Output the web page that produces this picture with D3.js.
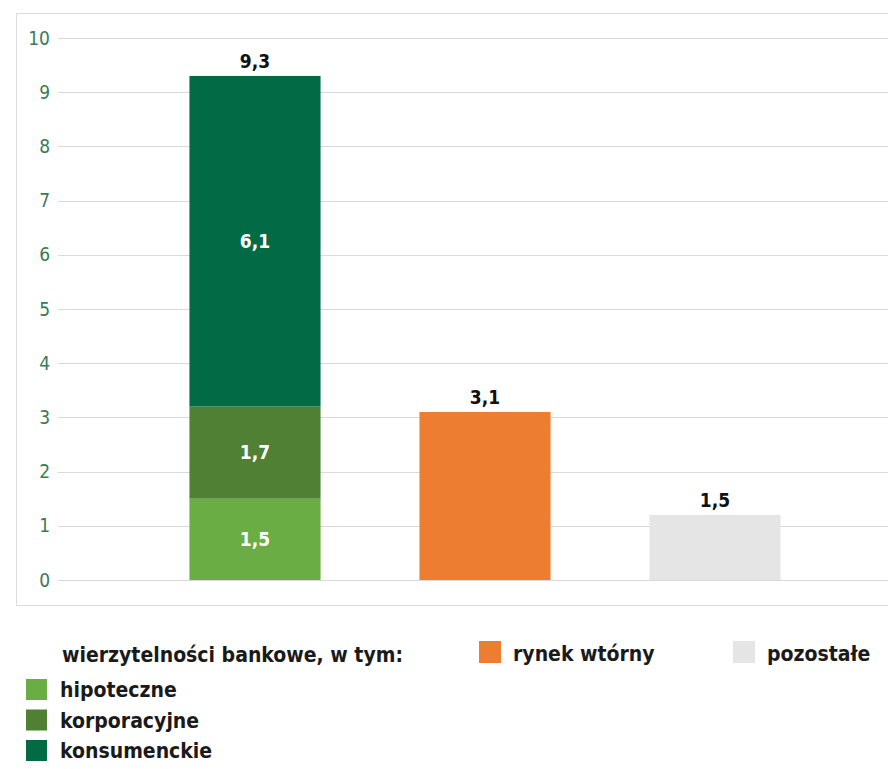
<!DOCTYPE html>
<html lang="pl">
<head>
<meta charset="UTF-8">
<script src="https://d3js.org/d3.v7.min.js"></script>
<style>
  * { margin: 0; padding: 0; }
  body { background: #fff; width: 888px; height: 769px; overflow: hidden; }
  svg { display: block; font-family: 'Liberation Sans Narrow', 'DejaVu Sans Condensed', 'Roboto', sans-serif; }
</style>
</head>
<body>
<svg id="chart" width="888" height="769"></svg>
<script>
// data
var categories = ['wierzytelności bankowe', 'rynek wtórny', 'pozostałe'];
var stackKeys = ['hipoteczne', 'korporacyjne', 'konsumenckie'];
var stackValues = [1.5, 1.7, 6.1];
var stackLabels = ['1,5', '1,7', '6,1'];
var singleValues = [3.1, 1.2];
var topLabels = ['9,3', '3,1', '1,5'];
var yTicks = [0, 1, 2, 3, 4, 5, 6, 7, 8, 9, 10];

var colors = {
  hipoteczne: '#6aad45',
  korporacyjne: '#4f8034',
  konsumenckie: '#026b46',
  'rynek wtórny': '#ed7d31',
  'pozostałe': '#e5e5e6'
};

var svg = d3.select('#chart');

// plot frame
svg.append('rect')
  .attr('x', 16.5).attr('y', 13.5)
  .attr('width', 900).attr('height', 592)
  .attr('fill', 'none').attr('stroke', '#dcdcdc').attr('stroke-width', 1);

var y = d3.scaleLinear().domain([0, 10]).range([580, 38]);
var x = d3.scaleBand().domain(categories).range([140, 830]).paddingInner(0.43).paddingOuter(0.215);

// gridlines
svg.append('g')
  .selectAll('line')
  .data(yTicks)
  .join('line')
  .attr('x1', 58).attr('x2', 888)
  .attr('y1', function(d) { return Math.round(y(d)) + 0.5; })
  .attr('y2', function(d) { return Math.round(y(d)) + 0.5; })
  .attr('stroke', '#d9d9d9').attr('stroke-width', 1);

// y axis labels
var yAxis = d3.axisLeft(y).tickValues(yTicks).tickSize(0).tickPadding(0);
var ya = svg.append('g').attr('transform', 'translate(50,0)').call(yAxis);
ya.select('.domain').remove();
ya.selectAll('text')
  .attr('fill', '#3a7a5b')
  .attr('font-size', 19)
  .attr('font-family', "'Liberation Sans Narrow', 'DejaVu Sans Condensed', sans-serif");

// stacked bar
var stackRows = [{}];
stackKeys.forEach(function(k, i) { stackRows[0][k] = stackValues[i]; });
var series = d3.stack().keys(stackKeys)(stackRows);

var bx = x(categories[0]), bw = x.bandwidth();
svg.append('g')
  .selectAll('rect')
  .data(series)
  .join('rect')
  .attr('x', bx)
  .attr('width', bw)
  .attr('y', function(d) { return y(d[0][1]); })
  .attr('height', function(d) { return y(d[0][0]) - y(d[0][1]); })
  .attr('fill', function(d) { return colors[d.key]; });

svg.append('g')
  .selectAll('text')
  .data(series)
  .join('text')
  .attr('x', bx + bw / 2)
  .attr('y', function(d) { return (y(d[0][0]) + y(d[0][1])) / 2; })
  .attr('dy', '0.35em')
  .attr('text-anchor', 'middle')
  .attr('fill', '#fff')
  .attr('font-weight', 'bold')
  .attr('font-size', 19)
  .text(function(d, i) { return stackLabels[i]; });

// single bars
var singles = categories.slice(1).map(function(c, i) { return { cat: c, value: singleValues[i] }; });
svg.append('g')
  .selectAll('rect')
  .data(singles)
  .join('rect')
  .attr('x', function(d) { return x(d.cat); })
  .attr('width', bw)
  .attr('y', function(d) { return y(d.value); })
  .attr('height', function(d) { return y(0) - y(d.value); })
  .attr('fill', function(d) { return colors[d.cat]; });

// top labels
var totals = [d3.sum(stackValues)].concat(singleValues);
svg.append('g')
  .selectAll('text')
  .data(categories)
  .join('text')
  .attr('x', function(d) { return x(d) + bw / 2; })
  .attr('y', function(d, i) { return y(totals[i]) - 8; })
  .attr('text-anchor', 'middle')
  .attr('fill', '#111')
  .attr('font-weight', 'bold')
  .attr('font-size', 19)
  .text(function(d, i) { return topLabels[i]; });

// legend
var legend = svg.append('g').attr('font-weight', 'bold').attr('font-size', 21).attr('fill', '#1a1a1a');
legend.append('text').attr('x', 62).attr('y', 662).text('wierzytelności bankowe, w tym:');

var legRows = legend.selectAll('g.row')
  .data(stackKeys)
  .join('g')
  .attr('class', 'row')
  .attr('transform', function(d, i) { return 'translate(26,' + (679 + i * 30.5) + ')'; });
legRows.append('rect').attr('width', 21).attr('height', 21).attr('fill', function(d) { return colors[d]; });
legRows.append('text').attr('x', 34).attr('y', 18).text(function(d) { return d; });

var legRight = legend.selectAll('g.r')
  .data([{ key: 'rynek wtórny', x: 479 }, { key: 'pozostałe', x: 733 }])
  .join('g')
  .attr('class', 'r')
  .attr('transform', function(d) { return 'translate(' + d.x + ',641)'; });
legRight.append('rect').attr('width', 22).attr('height', 22).attr('fill', function(d) { return colors[d.key]; });
legRight.append('text').attr('x', 34).attr('y', 20).text(function(d) { return d.key; });
</script>
</body>
</html>
